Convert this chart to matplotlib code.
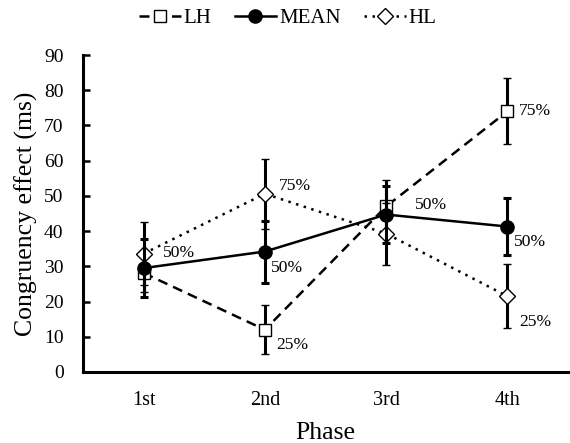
import matplotlib
matplotlib.use('Agg')
import matplotlib.pyplot as plt
import numpy as np

plt.rcParams['font.family'] = ['Liberation Serif', 'DejaVu Serif']

phases = ['1st', '2nd', '3rd', '4th']

lh = [28.1, 12.0, 47.0, 74.0]
lh_err = [5.3, 7.0, 7.6, 9.4]
mean = [29.5, 34.2, 44.7, 41.3]
mean_err = [8.2, 8.8, 8.0, 8.2]
hl = [33.6, 50.6, 39.3, 21.5]
hl_err = [8.9, 9.9, 8.8, 9.1]

# data labels: (series, phase index, text)
pct_labels = [('hl', 0, '50%'), ('hl', 1, '75%'), ('mean', 1, '50%'), ('lh', 1, '25%'),
              ('mean', 2, '50%'), ('lh', 3, '75%'), ('mean', 3, '50%'), ('hl', 3, '25%')]
# offsets in pixels (dx, dy up)
pct_offsets = [(35, 1), (30, 8), (22, -16), (27, -15),
               (45, 10), (28, 0), (23, -15), (28, -26)]

fig = plt.figure(figsize=(5.7, 4.43), dpi=100)
ax = fig.add_axes([83/570, 1-372/443, (568-83)/570, (372-55)/443])

x = np.arange(len(phases))
series = {'lh': lh, 'mean': mean, 'hl': hl}

eb = dict(ecolor='black', elinewidth=2.2, capsize=3, capthick=2.2)
h_lh = ax.errorbar(x, lh, yerr=lh_err, color='black', lw=1.8, ls=(0, (4, 2.5)),
                   marker='s', ms=9, mfc='white', mec='black', mew=1.0, zorder=2, **eb)
h_hl = ax.errorbar(x, hl, yerr=hl_err, color='black', lw=1.8, ls=(0, (1, 2.2)),
                   marker='D', ms=8, mfc='white', mec='black', mew=1.0, zorder=3, **eb)
h_mean = ax.errorbar(x, mean, yerr=mean_err, color='black', lw=1.8, ls='-',
                     marker='o', ms=9.5, mfc='black', mec='black', zorder=4, **eb)

for (s, i, t), (dx, dy) in zip(pct_labels, pct_offsets):
    ax.annotate(t, xy=(x[i], series[s][i]), xytext=(dx*0.72, dy*0.72),
                textcoords='offset points', ha='center', va='center', fontsize=12.6)

ax.set_xlim(-0.5, 3.5)
ax.set_ylim(0, 90)
ax.set_yticks(range(0, 91, 10))
ax.set_xticks(x)
ax.set_xticklabels(phases)
ax.tick_params(axis='y', direction='in', length=5, width=1.8, labelsize=14, pad=14)
ax.tick_params(axis='x', length=0, labelsize=14.5, pad=14)
for sp in ['top', 'right']:
    ax.spines[sp].set_visible(False)
for sp in ['left', 'bottom']:
    ax.spines[sp].set_linewidth(2.2)

ax.set_xlabel('Phase', fontsize=18.5, labelpad=8)
ax.set_ylabel('Congruency effect (ms)', fontsize=18.5, labelpad=4)

handles = [h_lh[0], h_mean[0], h_hl[0]]
fig.legend(handles, ['LH', 'MEAN', 'HL'], loc='center', bbox_to_anchor=(0.505, 1-18/443),
           ncol=3, frameon=False, fontsize=15, handlelength=2.0, handletextpad=0.15,
           columnspacing=1.1, borderpad=0)

fig.savefig('out.png', dpi=100)
